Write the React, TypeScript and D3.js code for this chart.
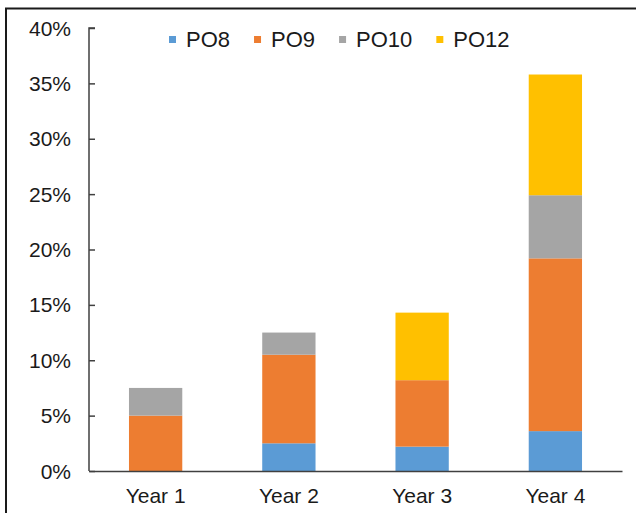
import React, { useEffect, useRef } from 'react';
import * as d3 from 'd3';

const years = ['Year 1', 'Year 2', 'Year 3', 'Year 4'];
const seriesNames = ['PO8', 'PO9', 'PO10', 'PO12'];
const po8 = [0, 0.025, 0.022, 0.036];
const po9 = [0.05, 0.08, 0.06, 0.156];
const po10 = [0.025, 0.02, 0, 0.057];
const po12 = [0, 0, 0.061, 0.109];
const yTicks = [0, 0.05, 0.1, 0.15, 0.2, 0.25, 0.3, 0.35, 0.4];
const colors = ['#5B9BD5', '#ED7D31', '#A5A5A5', '#FFC000'];

const W = 636;
const H = 513;
const FONT = '"Liberation Sans", Arial, sans-serif';

const App = () => {
  const svgRef = useRef<SVGSVGElement>(null);

  useEffect(() => {
    const svg = d3.select(svgRef.current);
    svg.selectAll('*').remove();

    const margin = { top: 28, right: 14, bottom: 42, left: 89 };

    const rows = years.map((year, i) => ({
      year,
      PO8: po8[i],
      PO9: po9[i],
      PO10: po10[i],
      PO12: po12[i],
    }));

    const x = d3.scaleBand()
      .domain(years)
      .range([margin.left, W - margin.right])
      .paddingInner(0.6)
      .paddingOuter(0.3);

    const y = d3.scaleLinear()
      .domain([0, 0.4])
      .range([H - margin.bottom, margin.top]);

    const color = d3.scaleOrdinal<string, string>().domain(seriesNames).range(colors);

    // outer frame (only left and top edges are visible)
    svg.append('path')
      .attr('d', `M6,${H} V8.5 H${W}`)
      .attr('fill', 'none')
      .attr('stroke', '#1a1a1a')
      .attr('stroke-width', 2);

    const stacked = d3.stack<any>().keys(seriesNames)(rows);

    svg.append('g')
      .selectAll('g')
      .data(stacked)
      .join('g')
      .attr('fill', d => color(d.key))
      .selectAll('rect')
      .data(d => d)
      .join('rect')
      .attr('x', d => x(d.data.year)!)
      .attr('width', x.bandwidth())
      .attr('y', d => y(d[1]))
      .attr('height', d => y(d[0]) - y(d[1]));

    // y axis
    const yAxis = svg.append('g')
      .attr('transform', `translate(${margin.left},0)`)
      .call(d3.axisRight(y).tickValues(yTicks).tickSize(6).tickFormat(() => ''));
    yAxis.select('.domain')
      .attr('d', `M6,${y(0.4)}H0V${y(0)}`)
      .attr('stroke', '#404040')
      .attr('stroke-width', 1.5);
    yAxis.selectAll('.tick line').attr('stroke', '#404040').attr('stroke-width', 1.5);

    svg.append('g')
      .selectAll('text')
      .data(yTicks)
      .join('text')
      .attr('x', 71)
      .attr('y', d => y(d))
      .attr('dy', '0.36em')
      .attr('text-anchor', 'end')
      .attr('font-family', FONT)
      .attr('font-size', 21)
      .attr('fill', '#1a1a1a')
      .text(d => d3.format('.0%')(d));

    // x axis
    const xAxis = svg.append('g')
      .attr('transform', `translate(0,${y(0)})`)
      .call(d3.axisBottom(x).tickSize(0).tickPadding(17));
    xAxis.select('.domain').attr('stroke', '#404040').attr('stroke-width', 1.5);
    xAxis.selectAll('text')
      .attr('font-family', FONT)
      .attr('font-size', 21)
      .attr('fill', '#1a1a1a');

    // legend
    const legend = svg.append('g').attr('transform', 'translate(169,0)');
    let cx = 0;
    seriesNames.forEach(name => {
      const g = legend.append('g').attr('transform', `translate(${cx},0)`);
      g.append('rect')
        .attr('x', 0)
        .attr('y', 36)
        .attr('width', 7)
        .attr('height', 7)
        .attr('fill', color(name));
      const t = g.append('text')
        .attr('x', 17)
        .attr('y', 47)
        .attr('font-family', FONT)
        .attr('font-size', 22)
        .attr('fill', '#1a1a1a')
        .text(name);
      const len = (t.node() as SVGTextElement).getComputedTextLength();
      cx += 17 + len + 24;
    });
  }, []);

  return (
    <svg
      ref={svgRef}
      width={W}
      height={H}
      style={{ position: 'absolute', left: 0, top: 0, background: '#fff' }}
    />
  );
};

export default App;
